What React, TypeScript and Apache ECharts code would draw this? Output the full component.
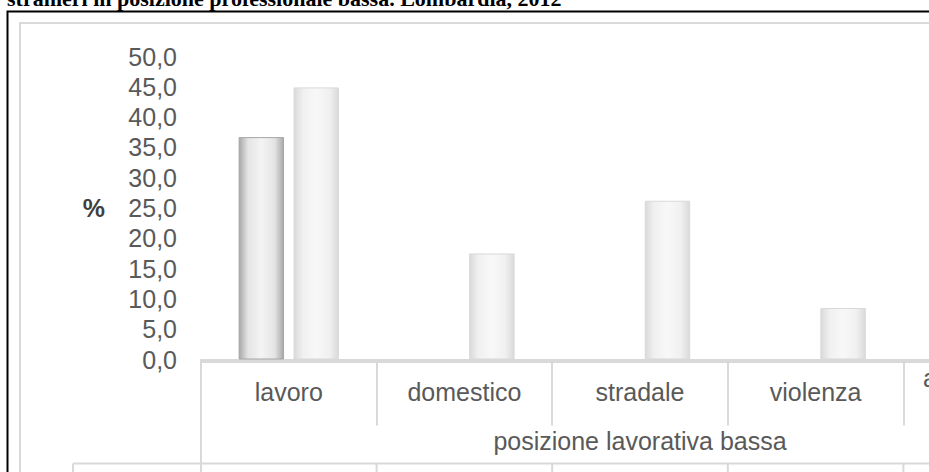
import React, { useEffect, useRef } from "react";
import * as echarts from "echarts";

const categories = ["lavoro", "domestico", "stradale", "violenza", "altri infortuni\ne incidenti"];
const italiani = [36.7, null, null, null, null];
const stranieri = [44.9, 17.5, 26.2, 8.5, null];
const yTicks = { min: 0, max: 50, interval: 5 };
const titleText = "stranieri in posizione professionale bassa. Lombardia, 2012";
const levelLabel = "posizione lavorativa bassa";
const tableRowLabel = "italiani";

const W = 1100;
const H = 560;
const gridLeft = 201;
const catW = 175.6;
const gridTop = 56.5;
const axisY = 359.5;

export default function App() {
  const ref = useRef<HTMLDivElement>(null);
  useEffect(() => {
    if (!ref.current) return;
    const chart = echarts.init(ref.current, null, { renderer: "svg" });
    const n = categories.length;
    const gridRight = W - (gridLeft + catW * n);
    const gray = "#d9d9d9";
    const font = "Liberation Sans";
    const graphic: any[] = [
      {
        type: "rect",
        z: -10,
        shape: { x: 7.5, y: 11.5, width: 2000, height: 1000 },
        style: { fill: "none", stroke: "#000", lineWidth: 2 },
      },
      {
        type: "rect",
        z: -10,
        shape: { x: 20, y: 23, width: 2000, height: 1000 },
        style: { fill: "none", stroke: gray, lineWidth: 2 },
      },
      {
        type: "text",
        x: 7,
        y: 9,
        style: {
          text: titleText,
          fontFamily: "Liberation Serif",
          fontWeight: "bold",
          fontSize: 22,
          fill: "#000",
          verticalAlign: "bottom",
        },
      },
      {
        type: "line",
        shape: { x1: gridLeft, y1: 362, x2: W, y2: 362 },
        style: { stroke: gray, lineWidth: 2 },
      },
      {
        type: "line",
        shape: { x1: gridLeft, y1: 360, x2: gridLeft, y2: H },
        style: { stroke: gray, lineWidth: 2 },
      },
      {
        type: "line",
        shape: { x1: 73, y1: 463.5, x2: W, y2: 463.5 },
        style: { stroke: gray, lineWidth: 2 },
      },
      {
        type: "line",
        shape: { x1: 73, y1: 463.5, x2: 73, y2: H },
        style: { stroke: gray, lineWidth: 2 },
      },
      {
        type: "text",
        x: 136,
        y: 469,
        style: {
          text: tableRowLabel,
          fontFamily: font,
          fontSize: 25,
          fill: "#595959",
          align: "center",
          verticalAlign: "top",
        },
      },
    ];
    for (let i = 1; i <= n; i++) {
      const x = gridLeft + catW * i;
      graphic.push({
        type: "line",
        shape: { x1: x, y1: 464, x2: x, y2: H },
        style: { stroke: gray, lineWidth: 2 },
      });
    }
    const barGrad = (edge: string, mid: string, center: string) => ({
      type: "linear",
      x: 0,
      y: 0,
      x2: 1,
      y2: 0,
      colorStops: [
        { offset: 0, color: edge },
        { offset: 0.2, color: mid },
        { offset: 0.5, color: center },
        { offset: 0.8, color: mid },
        { offset: 1, color: edge },
      ],
    });
    chart.setOption({
      animation: false,
      backgroundColor: "#fff",
      grid: {
        left: gridLeft,
        right: gridRight,
        top: gridTop,
        bottom: H - axisY,
        containLabel: false,
      },
      xAxis: {
        type: "category",
        data: categories.map((c, i) =>
          i === n - 1
            ? { value: c, textStyle: { lineHeight: 28, verticalAlign: "middle" } }
            : c
        ),
        boundaryGap: true,
        axisLine: { show: true, lineStyle: { color: gray, width: 2 } },
        axisTick: {
          show: true,
          interval: 0,
          length: 66,
          lineStyle: { color: gray, width: 2 },
        },
        axisLabel: {
          interval: 0,
          margin: 32,
          fontSize: 25,
          fontFamily: font,
          color: "#595959",
          verticalAlign: "middle",
          lineHeight: 28,
        },
        name: levelLabel,
        nameLocation: "middle",
        nameGap: 69,
        nameMoveOverlap: false,
        nameTextStyle: { fontSize: 25, fontFamily: font, color: "#595959", lineHeight: 25 },
        splitLine: { show: false },
      },
      yAxis: {
        type: "value",
        min: yTicks.min,
        max: yTicks.max,
        interval: yTicks.interval,
        axisLine: { show: false },
        axisTick: { show: false },
        splitLine: { show: false },
        axisLabel: {
          margin: 24,
          fontSize: 25,
          fontFamily: font,
          color: "#595959",
          formatter: (v: number) => v.toFixed(1).replace(".", ","),
        },
        name: "%",
        nameLocation: "middle",
        nameRotate: 0,
        nameGap: 96,
        nameMoveOverlap: false,
        nameTextStyle: { fontSize: 25, fontFamily: font, fontWeight: "bold", color: "#404040" },
      },
      series: [
        {
          name: "italiani",
          type: "bar",
          data: italiani,
          barWidth: 45.4,
          barGap: "21%",
          itemStyle: {
            color: barGrad("#a8a8a8", "#e4e4e4", "#f4f4f4"),
            borderColor: "#a6a6a6",
            borderWidth: 1,
          },
        },
        {
          name: "stranieri",
          type: "bar",
          data: stranieri,
          barWidth: 45.4,
          barGap: "21%",
          itemStyle: {
            color: barGrad("#dadada", "#f0f0f0", "#f8f8f8"),
            borderColor: "#d9d9d9",
            borderWidth: 1,
          },
        },
      ],
      graphic,
    });
    return () => chart.dispose();
  }, []);
  return (
    <div
      style={{
        position: "absolute",
        left: 0,
        top: 0,
        width: 929,
        height: 472,
        overflow: "hidden",
        background: "#fff",
      }}
    >
      <div ref={ref} style={{ width: W, height: H }} />
    </div>
  );
}
